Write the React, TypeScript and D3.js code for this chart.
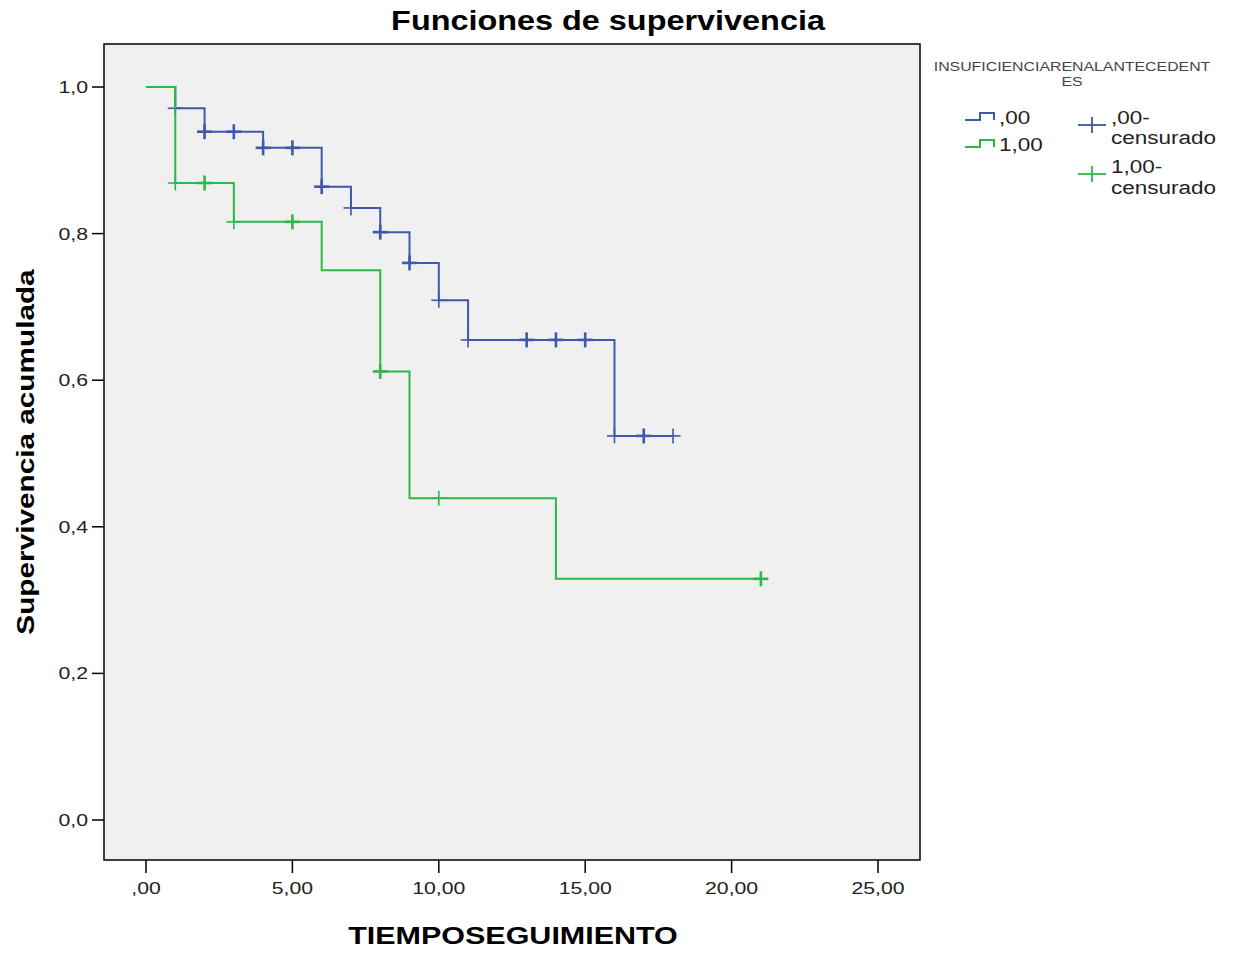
import React from "react";
import * as d3 from "d3";

const xTicks = [0, 5, 10, 15, 20, 25];
const xTickLabels = [",00", "5,00", "10,00", "15,00", "20,00", "25,00"];
const yTicks = [0, 0.2, 0.4, 0.6, 0.8, 1.0];
const yTickLabels = ["0,0", "0,2", "0,4", "0,6", "0,8", "1,0"];

// group ,00 : step times and survival after each step
const g0Times = [0, 1, 2, 4, 6, 7, 8, 9, 10, 11, 16, 18];
const g0Surv = [1.0, 0.971, 0.939, 0.917, 0.864, 0.835, 0.802, 0.76, 0.709, 0.655, 0.524, 0.524];
const g0CensorTimes = [1, 2, 3, 4, 5, 6, 7, 8, 9, 10, 11, 13, 14, 15, 16, 17, 18];
const g0CensorBold = [0, 1, 1, 1, 1, 1, 0, 1, 1, 0, 0, 1, 1, 1, 0, 1, 0];

// group 1,00
const g1Times = [0, 1, 3, 6, 8, 9, 14, 21];
const g1Surv = [1.0, 0.869, 0.816, 0.75, 0.612, 0.439, 0.329, 0.329];
const g1CensorTimes = [1, 2, 3, 5, 8, 10, 21];
const g1CensorBold = [0, 1, 0, 1, 1, 0, 1];

const BLUE = "#3e58ac";
const GREEN = "#2eb848";

function survAt(times: number[], surv: number[], t: number) {
  let v = surv[0];
  for (let i = 0; i < times.length; i++) if (times[i] <= t) v = surv[i];
  return v;
}

type TProps = {
  x: number; y: number; sx?: number; rot?: number; size: number; anchor?: string;
  bold?: boolean; fill?: string; children: React.ReactNode;
};
function T({ x, y, sx = 1.25, rot = 0, size, anchor = "start", bold, fill = "#222", children }: TProps) {
  return (
    <text
      transform={`translate(${x},${y}) rotate(${rot}) scale(${sx},1)`}
      textAnchor={anchor}
      fontSize={size}
      fontWeight={bold ? "bold" : "normal"}
      fill={fill}
    >
      {children}
    </text>
  );
}

export default function App() {
  const left = 104, right = 920, top = 44, bottom = 860;
  const x = d3.scaleLinear().domain([0, 25]).range([146, 878]);
  const y = d3.scaleLinear().domain([0, 1]).range([820, 87]);
  const line = d3.line<[number, number]>().x(d => x(d[0])).y(d => y(d[1])).curve(d3.curveStepAfter);
  const font = "Arial, 'Liberation Sans', sans-serif";

  const curve = (times: number[], surv: number[]) =>
    line(times.map((t, i) => [t, surv[i]] as [number, number])) || "";

  const censors = (times: number[], surv: number[], ct: number[], bold: number[], color: string) =>
    ct.map((t, i) => {
      const cx = x(t), cy = y(survAt(times, surv, t));
      const w = bold[i] ? 2.6 : 1.6;
      return (
        <g key={i} stroke={color} strokeWidth={w}>
          <line x1={cx - 7.5} x2={cx + 7.5} y1={cy} y2={cy} />
          <line x1={cx} x2={cx} y1={cy - 7.5} y2={cy + 7.5} />
        </g>
      );
    });

  return (
    <svg width={1233} height={953} style={{ position: "absolute", left: 0, top: 0, background: "#fff" }} fontFamily={font}>
      <T x={608} y={30} sx={1.2} anchor="middle" size={27} bold fill="#000">Funciones de supervivencia</T>
      <rect x={left} y={top} width={right - left} height={bottom - top} fill="#f0f0f0" stroke="#000" strokeWidth={1.5} />
      {yTicks.map((v, i) => (
        <g key={i}>
          <line x1={92} x2={left} y1={y(v)} y2={y(v)} stroke="#000" strokeWidth={1.5} />
          <T x={88} y={y(v) + 6} anchor="end" size={17}>{yTickLabels[i]}</T>
        </g>
      ))}
      {xTicks.map((v, i) => (
        <g key={i}>
          <line x1={x(v)} x2={x(v)} y1={bottom} y2={bottom + 13} stroke="#000" strokeWidth={1.5} />
          <T x={x(v)} y={bottom + 34} anchor="middle" size={17}>{xTickLabels[i]}</T>
        </g>
      ))}
      <T x={513} y={944} sx={1.27} anchor="middle" size={24} bold fill="#000">TIEMPOSEGUIMIENTO</T>
      <T x={34} y={452} sx={1.24} rot={-90} anchor="middle" size={24} bold fill="#000">Supervivencia acumulada</T>

      <path d={curve(g0Times, g0Surv)} fill="none" stroke={BLUE} strokeWidth={2} />
      {censors(g0Times, g0Surv, g0CensorTimes, g0CensorBold, BLUE)}
      <path d={curve(g1Times, g1Surv)} fill="none" stroke={GREEN} strokeWidth={2} />
      {censors(g1Times, g1Surv, g1CensorTimes, g1CensorBold, GREEN)}

      {/* legend */}
      <T x={1072} y={71} sx={1.27} anchor="middle" size={12.5} fill="#444">INSUFICIENCIARENALANTECEDENT</T>
      <T x={1072} y={86} sx={1.27} anchor="middle" size={12.5} fill="#444">ES</T>
      <path d="M965,120 H980 V113 H994 V120" fill="none" stroke={BLUE} strokeWidth={2} />
      <T x={999} y={124} size={18}>,00</T>
      <path d="M965,147 H980 V140 H994 V147" fill="none" stroke={GREEN} strokeWidth={2} />
      <T x={999} y={151} size={18}>1,00</T>
      <g stroke={BLUE} strokeWidth={1.8}>
        <line x1={1078} x2={1106} y1={125} y2={125} />
        <line x1={1092} x2={1092} y1={117} y2={133} />
      </g>
      <T x={1111} y={124} size={18}>,00-</T>
      <T x={1111} y={144} size={18}>censurado</T>
      <g stroke={GREEN} strokeWidth={1.8}>
        <line x1={1078} x2={1106} y1={174} y2={174} />
        <line x1={1092} x2={1092} y1={166} y2={182} />
      </g>
      <T x={1111} y={173} size={18}>1,00-</T>
      <T x={1111} y={194} size={18}>censurado</T>
    </svg>
  );
}
